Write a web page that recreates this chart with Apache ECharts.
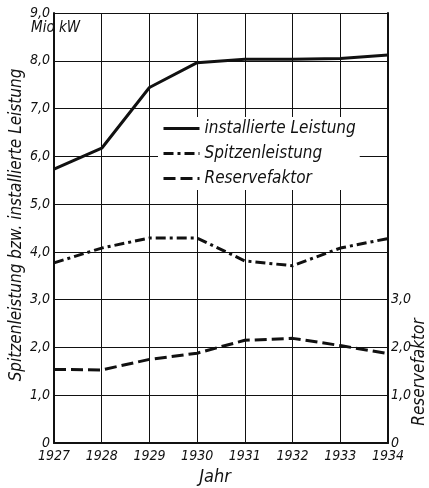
<!DOCTYPE html>
<html>
<head>
<meta charset="utf-8">
<script src="https://cdn.jsdelivr.net/npm/echarts@6/dist/echarts.min.js"></script>
<style>
  html, body { margin: 0; padding: 0; background: #fff; }
  #chart { width: 429px; height: 488px; }
</style>
</head>
<body>
<div id="chart"></div>
<script>
// values
var years = ['1927', '1928', '1929', '1930', '1931', '1932', '1933', '1934'];
var installiert = [5.73, 6.17, 7.44, 7.96, 8.03, 8.03, 8.05, 8.12];   // Mio kW
var spitze = [3.77, 4.08, 4.29, 4.29, 3.81, 3.71, 4.08, 4.28];        // Mio kW
var reserve = [1.54, 1.53, 1.75, 1.88, 2.15, 2.19, 2.04, 1.87];       // factor
var leftTicks = ['0', '1,0', '2,0', '3,0', '4,0', '5,0', '6,0', '7,0', '8,0', '9,0'];
var rightTicks = ['0', '1,0', '2,0', '3,0'];

var font = '"Liberation Sans Narrow", "DejaVu Sans Condensed", "DejaVu Sans", sans-serif';
var ink = '#111';

var chart = echarts.init(document.getElementById('chart'));
chart.setOption({
  backgroundColor: '#fff',
  animation: false,
  grid: { left: 54, right: 41, top: 13, bottom: 45 },
  xAxis: {
    type: 'category',
    data: years,
    boundaryGap: false,
    axisLine: { lineStyle: { color: ink, width: 2 } },
    axisTick: { show: false },
    axisLabel: { color: ink, fontFamily: font, fontStyle: 'italic', fontSize: 14, margin: 6 },
    splitLine: { show: true, lineStyle: { color: ink, width: 1 } }
  },
  yAxis: [
    {
      type: 'value', min: 0, max: 9, interval: 1,
      axisLine: { show: true, lineStyle: { color: ink, width: 2 } },
      axisTick: { show: false },
      axisLabel: {
        color: ink, fontFamily: font, fontStyle: 'italic', fontSize: 14, margin: 4,
        formatter: function (v) { return leftTicks[v]; }
      },
      splitLine: { show: true, lineStyle: { color: ink, width: 1 } }
    },
    {
      type: 'value', min: 0, max: 9, interval: 1, position: 'right',
      axisLine: { show: true, lineStyle: { color: ink, width: 2 } },
      axisTick: { show: false },
      axisLabel: {
        color: ink, fontFamily: font, fontStyle: 'italic', fontSize: 14, margin: 3,
        formatter: function (v) { return v <= 3 ? rightTicks[v] : ''; }
      },
      splitLine: { show: false }
    }
  ],
  legend: {
    orient: 'vertical',
    left: 158, top: 117,
    itemWidth: 36, itemHeight: 14, itemGap: 8,
    backgroundColor: '#fff',
    padding: [3, 4],
    itemStyle: { opacity: 0 },
    lineStyle: { width: 3 },
    textStyle: { color: ink, fontFamily: font, fontStyle: 'italic', fontSize: 17 },
    data: ['installierte Leistung', 'Spitzenleistung', 'Reservefaktor']
  },
  series: [
    {
      name: 'installierte Leistung', type: 'line', data: installiert,
      symbol: 'none', color: ink,
      lineStyle: { color: ink, width: 3 }
    },
    {
      name: 'Spitzenleistung', type: 'line', data: spitze,
      symbol: 'none', color: ink,
      lineStyle: { color: ink, width: 3, type: [10, 4, 3, 4] }
    },
    {
      name: 'Reservefaktor', type: 'line', data: reserve, yAxisIndex: 1,
      symbol: 'none', color: ink,
      lineStyle: { color: ink, width: 3, type: [12, 5] }
    }
  ],
  graphic: [
    {
      type: 'text', left: 31, top: 21,
      style: { text: 'Mio kW', fill: ink, font: 'italic 15px ' + font, backgroundColor: '#fff' }
    },
    {
      type: 'text', x: 17, y: 225, rotation: Math.PI / 2,
      style: {
        text: 'Spitzenleistung bzw. installierte Leistung', fill: ink,
        font: 'italic 17px ' + font, align: 'center', verticalAlign: 'middle'
      }
    },
    {
      type: 'text', x: 420, y: 372, rotation: Math.PI / 2,
      style: {
        text: 'Reservefaktor', fill: ink,
        font: 'italic 17px ' + font, align: 'center', verticalAlign: 'middle'
      }
    },
    {
      type: 'text', x: 215, y: 477,
      style: {
        text: 'Jahr', fill: ink,
        font: 'italic 18px ' + font, align: 'center', verticalAlign: 'middle'
      }
    }
  ]
});
</script>
</body>
</html>
